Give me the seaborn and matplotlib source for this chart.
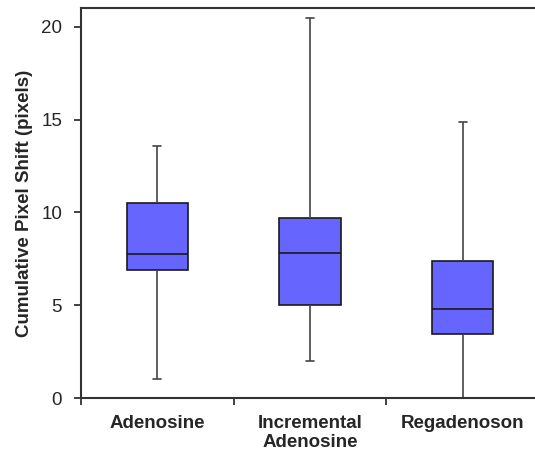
import pandas as pd
import matplotlib
matplotlib.use('Agg')
import matplotlib.pyplot as plt
from matplotlib.ticker import FixedLocator
import seaborn as sns

# box summary values: [min, q1, median, q3, max]
groups = ['Adenosine', 'Incremental\nAdenosine', 'Regadenoson']
adenosine = [1.0, 6.88, 7.78, 10.5, 13.6]
incremental = [2.0, 5.0, 7.83, 9.71, 20.46]
regadenoson = [0.0, 3.44, 4.82, 7.37, 14.86]

df = pd.DataFrame({
    'group': [groups[0]] * 5 + [groups[1]] * 5 + [groups[2]] * 5,
    'shift': adenosine + incremental + regadenoson,
})

sns.set_style('white')
plt.rcParams['font.family'] = ['Liberation Sans', 'DejaVu Sans']

fig = plt.figure(figsize=(5.35, 4.51), dpi=100)
ax = fig.add_axes([0.151, 0.1175, 0.857, 0.8645])

sns.boxplot(data=df, x='group', y='shift', ax=ax, whis=(0, 100), width=0.4,
            color='#6666FF', saturation=1, linecolor='#1a1a1a', linewidth=1.2,
            whiskerprops={'color': '#444444', 'linewidth': 1.2},
            capprops={'color': '#444444', 'linewidth': 1.2},
            showfliers=False)

# shorten the caps
medians = (adenosine[2], incremental[2], regadenoson[2])
for line in ax.lines:
    xd = line.get_xdata()
    yd = line.get_ydata()
    if len(xd) == 2 and yd[0] == yd[1] and abs(xd[1] - xd[0]) < 0.25 and yd[0] not in medians:
        c = (xd[0] + xd[1]) / 2
        line.set_xdata([c - 0.025, c + 0.025])

ax.set_xlim(-0.5, 2.5)
ax.set_ylim(0, 21)
ax.set_yticks([0, 5, 10, 15, 20])
ax.set_xlabel('')
ax.set_ylabel('Cumulative Pixel Shift (pixels)', fontsize=13.5, fontweight='bold', labelpad=6)

ax.xaxis.set_minor_locator(FixedLocator([-0.5, 0.5, 1.5, 2.5]))
ax.tick_params(axis='x', which='major', length=0, pad=12, labelsize=13.5)
ax.tick_params(axis='x', which='minor', length=5, width=1.3, color='#333333', bottom=True)
ax.tick_params(axis='y', length=5, width=1.3, color='#333333', left=True, labelsize=13.5, pad=8.5)
for lab in ax.get_xticklabels():
    lab.set_fontweight('bold')

for s in ['left', 'bottom', 'top']:
    ax.spines[s].set_color('#333333')
    ax.spines[s].set_linewidth(1.5)
ax.spines['right'].set_visible(False)

fig.savefig('out.png', dpi=100)
